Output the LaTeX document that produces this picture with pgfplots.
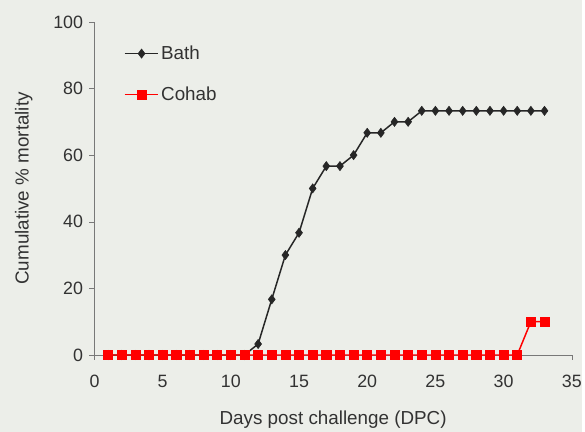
\documentclass[border=0pt]{standalone}
\usepackage{fontspec}
\setmainfont{Liberation Sans}
\usepackage{pgfplots}
\pgfplotsset{compat=1.18}
\usetikzlibrary{backgrounds}
\definecolor{bg}{RGB}{236,238,233}
\definecolor{txt}{RGB}{50,50,50}
\definecolor{axl}{RGB}{120,120,120}

\begin{document}
\begin{tikzpicture}[font=\fontsize{19}{23}\selectfont]
\begin{axis}[
    name=ax,
    scale only axis,
    width=480bp, height=335bp,
    xmin=0, xmax=35, ymin=0, ymax=100,
    xtick={0,5,...,35}, ytick={0,20,...,100},
    axis x line*=bottom, axis y line*=left,
    axis line style={axl, -},
    tick style={axl, major tick length=5bp},
    tick align=outside,
    ticklabel style={txt, font=\fontsize{18}{21}\selectfont},
    xticklabel style={yshift=-12bp},
    yticklabel style={xshift=-3bp},
    /pgf/number format/assume math mode=true,
    xlabel={Days post challenge (DPC)},
    ylabel={Cumulative \% mortality},
    label style={txt},
    xlabel style={yshift=-16bp},
    ylabel style={yshift=14bp},
    clip=false,
    legend style={draw=none, fill=none, at={(0.055,0.94)}, anchor=north west,
        row sep=22bp, text=txt},
    legend cell align=left,
    legend image code/.code={
        \draw[#1] (0cm,0cm) -- (1.2cm,0cm);
        \draw[#1, only marks] plot coordinates {(0.6cm,0cm)};
    },
]
\addplot[black!85, line width=1.5pt, mark=diamond*, mark size=4.6pt, mark options={fill=black!85, line width=0.6pt}]
coordinates {
(1,0)(2,0)(3,0)(4,0)(5,0)(6,0)(7,0)(8,0)(9,0)(10,0)(11,0)
(12,3.3)(13,16.7)(14,30)(15,36.7)(16,50)(17,56.7)(18,56.7)(19,60)
(20,66.7)(21,66.7)(22,70)(23,70)(24,73.3)(25,73.3)(26,73.3)(27,73.3)
(28,73.3)(29,73.3)(30,73.3)(31,73.3)(32,73.3)(33,73.3)
};
\addlegendentry{Bath}
\addplot[red, line width=1.5pt, mark=square*, mark size=4.6pt, mark options={fill=red, line width=0.6pt}]
coordinates {
(1,0)(2,0)(3,0)(4,0)(5,0)(6,0)(7,0)(8,0)(9,0)(10,0)(11,0)
(12,0)(13,0)(14,0)(15,0)(16,0)(17,0)(18,0)(19,0)(20,0)(21,0)
(22,0)(23,0)(24,0)(25,0)(26,0)(27,0)(28,0)(29,0)(30,0)(31,0)
(32,10)(33,10)
};
\addlegendentry{Cohab}
\end{axis}
\begin{scope}[on background layer]
\fill[bg] ([shift={(-95bp,-77bp)}]ax.south west) rectangle ([shift={(10bp,22bp)}]ax.north east);
\end{scope}
\end{tikzpicture}
\end{document}
